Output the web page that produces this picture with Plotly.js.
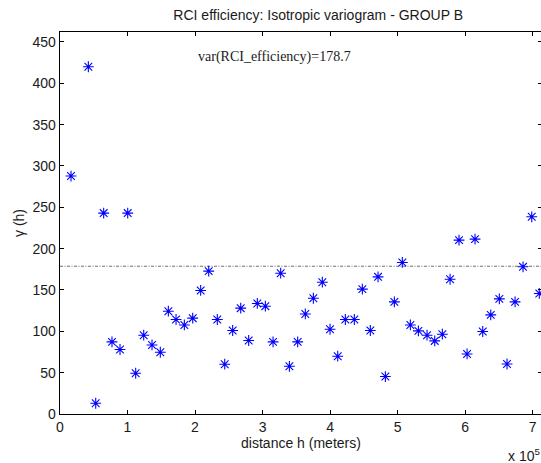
<!DOCTYPE html>
<html>
<head>
<meta charset="utf-8">
<script src="https://cdn.plot.ly/plotly-3.0.1.min.js"></script>
<style>
html,body{margin:0;padding:0;overflow:hidden;background:#fff;width:541px;height:463px;}
#chart{width:560px;height:463px;}
</style>
</head>
<body>
<div id="chart"></div>
<script>
// distance h in units of 1e5 meters
const distance = [0.163, 0.42, 0.529, 0.647, 0.770, 0.889, 1.003, 1.121, 1.240, 1.363,
  1.486, 1.605, 1.719, 1.842, 1.966, 2.084, 2.203, 2.33, 2.440, 2.558,
  2.677, 2.795, 2.923, 3.042, 3.156, 3.269, 3.398, 3.521, 3.634, 3.753,
  3.886, 4.0, 4.114, 4.227, 4.360, 4.479, 4.597, 4.711, 4.82, 4.953,
  5.071, 5.190, 5.309, 5.437, 5.551, 5.664, 5.778, 5.911, 6.03, 6.148,
  6.262, 6.381, 6.508, 6.622, 6.741, 6.859, 6.988, 7.1];
const gamma = [287.8, 420, 13, 243, 87.2, 78, 243, 49.3, 95.3, 83.5,
  74.7, 124.3, 114.3, 107.7, 115.9, 149.4, 172.8, 114.3, 60.2, 101,
  128, 88.9, 133.7, 130.4, 87.2, 170.3, 57.7, 87.2, 121, 140,
  159.4, 102.5, 69.9, 114.3, 114.3, 151, 101, 165.9, 45.3, 135.6,
  183.3, 107.7, 100.5, 95.3, 88.4, 96.5, 163, 210.3, 72.6, 211.5,
  99.8, 119.9, 139.2, 60.5, 135.6, 178, 238.5, 145.8];
const variance = 178.7;
const xRange = [0, 7.14];
const yRange = [0, 462];
const xTicks = [0, 1, 2, 3, 4, 5, 6, 7];
const yTicks = [0, 50, 100, 150, 200, 250, 300, 350, 400, 450];

const traces = [
  {
    x: xRange, y: [variance, variance], mode: 'lines', type: 'scatter',
    line: {color: '#6e6e6e', width: 1, dash: '3px,1.5px,1px,1.5px'},
    hoverinfo: 'skip', showlegend: false
  },
  {
    x: distance, y: gamma, mode: 'markers', type: 'scatter',
    marker: {symbol: 'asterisk-open', size: 9, color: 'rgb(0,0,255)',
             line: {color: 'rgb(0,0,255)', width: 1.1}},
    showlegend: false
  }
];

const axFont = {family: 'Liberation Sans, Arial, sans-serif', size: 14, color: '#1a1a1a'};
const layout = {
  width: 560, height: 463,
  margin: {l: 60, r: 18, t: 32, b: 49, pad: 0},
  paper_bgcolor: '#ffffff', plot_bgcolor: '#ffffff',
  showlegend: false,
  title: {text: 'RCI efficiency: Isotropic variogram - GROUP B',
          font: {family: 'Liberation Sans, Arial, sans-serif', size: 14, color: '#1a1a1a'},
          x: 300/560, xanchor: 'center', y: 1 - 15/463, yanchor: 'middle', xref: 'paper', yref: 'container'},
  xaxis: {
    range: xRange, tickvals: xTicks, ticktext: xTicks.map(String),
    showgrid: false, zeroline: false, showline: true, linecolor: '#000', linewidth: 1,
    mirror: 'ticks', ticks: 'inside', ticklen: 4, tickcolor: '#000', tickwidth: 1,
    tickfont: axFont,
    title: {text: 'distance h (meters)', font: axFont, standoff: 4}
  },
  yaxis: {
    range: yRange, tickvals: yTicks, ticktext: yTicks.map(String),
    showgrid: false, zeroline: false, showline: true, linecolor: '#000', linewidth: 1.3,
    mirror: 'ticks', ticks: 'inside', ticklen: 4, tickcolor: '#000', tickwidth: 1,
    tickfont: axFont,
    title: {text: 'γ (h)', font: axFont, standoff: 4}
  },
  annotations: [
    {x: 3.18, y: 432, xref: 'x', yref: 'y', text: 'var(RCI_efficiency)=178.7', showarrow: false,
     font: {family: 'Liberation Serif, Times New Roman, serif', size: 14, color: '#1a1a1a'},
     xanchor: 'center', yanchor: 'middle'},
    {x: (506-60)/482, y: -(455-413.7)/382, xref: 'paper', yref: 'paper', text: 'x 10<sup>5</sup>',
     showarrow: false, font: axFont, xanchor: 'left', yanchor: 'middle'}
  ]
};

Plotly.newPlot('chart', traces, layout, {displayModeBar: false, staticPlot: true});
</script>
</body>
</html>
